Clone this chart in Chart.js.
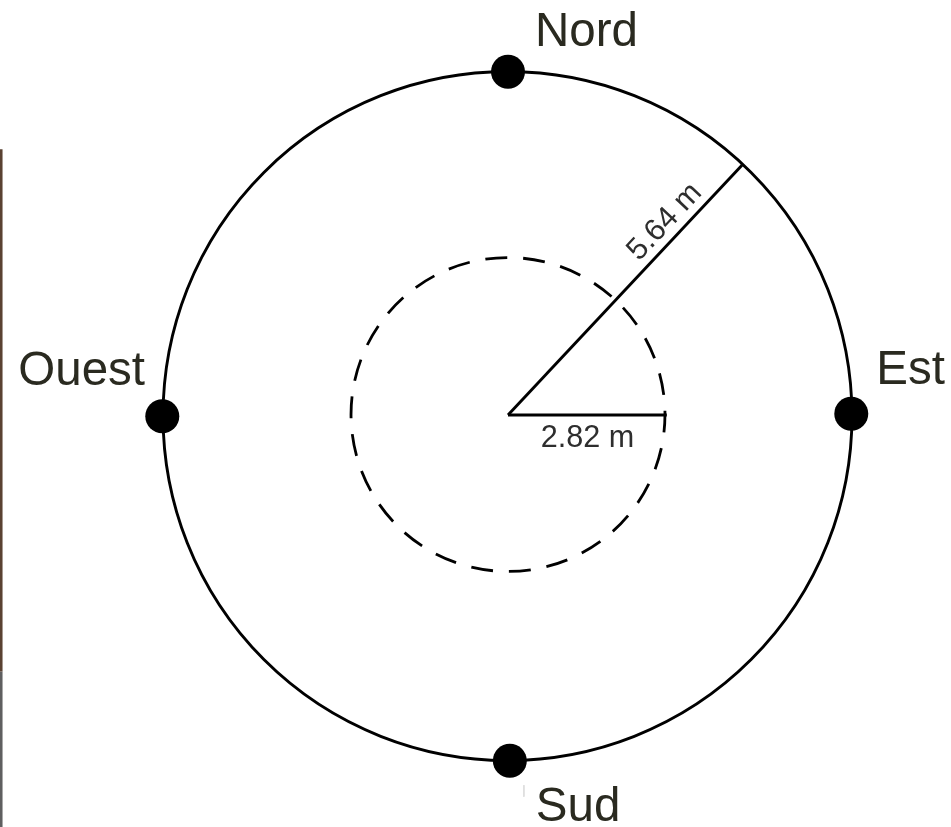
<!DOCTYPE html>
<html lang="fr">
<head>
    <meta charset="UTF-8">
    <title>Placette circulaire</title>
    <script src="https://cdn.jsdelivr.net/npm/chart.js"></script>
    <style>
        html, body {
            margin: 0;
            padding: 0;
            background: #ffffff;
            overflow: hidden;
        }
        canvas {
            display: block;
        }
    </style>
</head>
<body>
    <canvas id="plotChart" width="951" height="827"></canvas>

    <script>
        // values in metres
        const compassNames = ['Nord', 'Est', 'Sud', 'Ouest'];
        const compassX = [0, 5.62, 0.03, -5.66];
        const compassY = [5.62, 0.02, -5.66, -0.02];

        const outerRadius = 5.64;
        const innerRadius = 2.57;   // drawn smaller than its 2.82 m label in the source

        const centre = [0, 0];
        const outerRayEnd = [3.83, 4.09];
        const innerRayEnd = [2.6, 0];
        const rayLabels = ['5.64 m', '2.82 m'];

        // left border of the scan, and a stray mark near Sud
        const edgeX = -8.3;
        const edgeBrownY = [4.35, -4.2];
        const edgeGreyY = [-4.2, -6.75];
        const strayX = 0.26;
        const strayY = [-6.06, -6.25];

        const pxPerMetre = 61.08;
        const ink = '#000000';

        // pixel offsets from each compass point to the start of its label
        const labelOffsets = {
            Nord: [27, -26],
            Est: [25, -30],
            Sud: [26, 60],
            Ouest: [-144, -31]
        };

        const diagramPlugin = {
            id: 'diagram',
            beforeDatasetsDraw(chart) {
                const { ctx, scales: { x, y } } = chart;
                const cx = x.getPixelForValue(0);
                const cy = y.getPixelForValue(0);

                ctx.save();
                ctx.strokeStyle = ink;

                ctx.lineWidth = 2.9;
                ctx.beginPath();
                ctx.arc(cx - 0.5, cy + 1, x.getPixelForValue(outerRadius) - cx, 0, Math.PI * 2);
                ctx.stroke();

                ctx.lineWidth = 2.8;
                ctx.setLineDash([22, 15.93]);
                ctx.lineDashOffset = 4;
                ctx.beginPath();
                ctx.arc(cx, cy - 0.5, x.getPixelForValue(innerRadius) - cx, 0, Math.PI * 2);
                ctx.stroke();
                ctx.restore();
            },
            afterDatasetsDraw(chart) {
                const { ctx, scales: { x, y } } = chart;
                ctx.save();
                ctx.textBaseline = 'alphabetic';
                ctx.textAlign = 'left';

                ctx.font = '47.5px "Liberation Sans", Arial, sans-serif';
                ctx.fillStyle = '#2a2a20';
                compassNames.forEach((name, i) => {
                    const off = labelOffsets[name];
                    ctx.fillText(name, x.getPixelForValue(compassX[i]) + off[0], y.getPixelForValue(compassY[i]) + off[1]);
                });

                ctx.font = '30.6px "Liberation Sans", Arial, sans-serif';
                ctx.fillStyle = '#2e2e2e';
                ctx.textAlign = 'center';
                ctx.fillText(rayLabels[1], x.getPixelForValue(innerRayEnd[0] / 2), y.getPixelForValue(0) + 32);

                // label sits just above the slanted ray
                const angle = Math.atan2(outerRayEnd[1], outerRayEnd[0]);
                ctx.translate(x.getPixelForValue(outerRayEnd[0] * 0.725), y.getPixelForValue(outerRayEnd[1] * 0.725));
                ctx.rotate(-angle);
                ctx.fillText(rayLabels[0], 0, -9);
                ctx.restore();
            }
        };

        const rayStyle = {
            type: 'line',
            borderColor: ink,
            borderWidth: 2.9,
            pointRadius: 0,
            fill: false,
            clip: false
        };

        new Chart(document.getElementById('plotChart').getContext('2d'), {
            type: 'scatter',
            data: {
                datasets: [
                    {
                        ...rayStyle,
                        data: [{ x: centre[0], y: centre[1] }, { x: outerRayEnd[0], y: outerRayEnd[1] }]
                    },
                    {
                        ...rayStyle,
                        data: [{ x: centre[0], y: centre[1] }, { x: innerRayEnd[0], y: innerRayEnd[1] }]
                    },
                    {
                        ...rayStyle,
                        borderColor: '#5a4232',
                        borderWidth: 3,
                        data: edgeBrownY.map(v => ({ x: edgeX, y: v }))
                    },
                    {
                        ...rayStyle,
                        borderColor: '#5f5f60',
                        borderWidth: 3,
                        data: edgeGreyY.map(v => ({ x: edgeX, y: v }))
                    },
                    {
                        ...rayStyle,
                        borderColor: '#dddddd',
                        borderWidth: 1,
                        data: strayY.map(v => ({ x: strayX, y: v }))
                    },
                    {
                        data: compassX.map((v, i) => ({ x: v, y: compassY[i] })),
                        backgroundColor: ink,
                        borderWidth: 0,
                        pointRadius: 17,
                        pointHoverRadius: 17,
                        clip: false
                    }
                ]
            },
            options: {
                responsive: false,
                animation: false,
                layout: { padding: 0, autoPadding: false },
                plugins: {
                    legend: { display: false },
                    tooltip: { enabled: false }
                },
                scales: {
                    x: { type: 'linear', display: false, min: -508 / pxPerMetre, max: 443 / pxPerMetre },
                    y: { type: 'linear', display: false, min: -412 / pxPerMetre, max: 415 / pxPerMetre }
                }
            },
            plugins: [diagramPlugin]
        });
    </script>
</body>
</html>
